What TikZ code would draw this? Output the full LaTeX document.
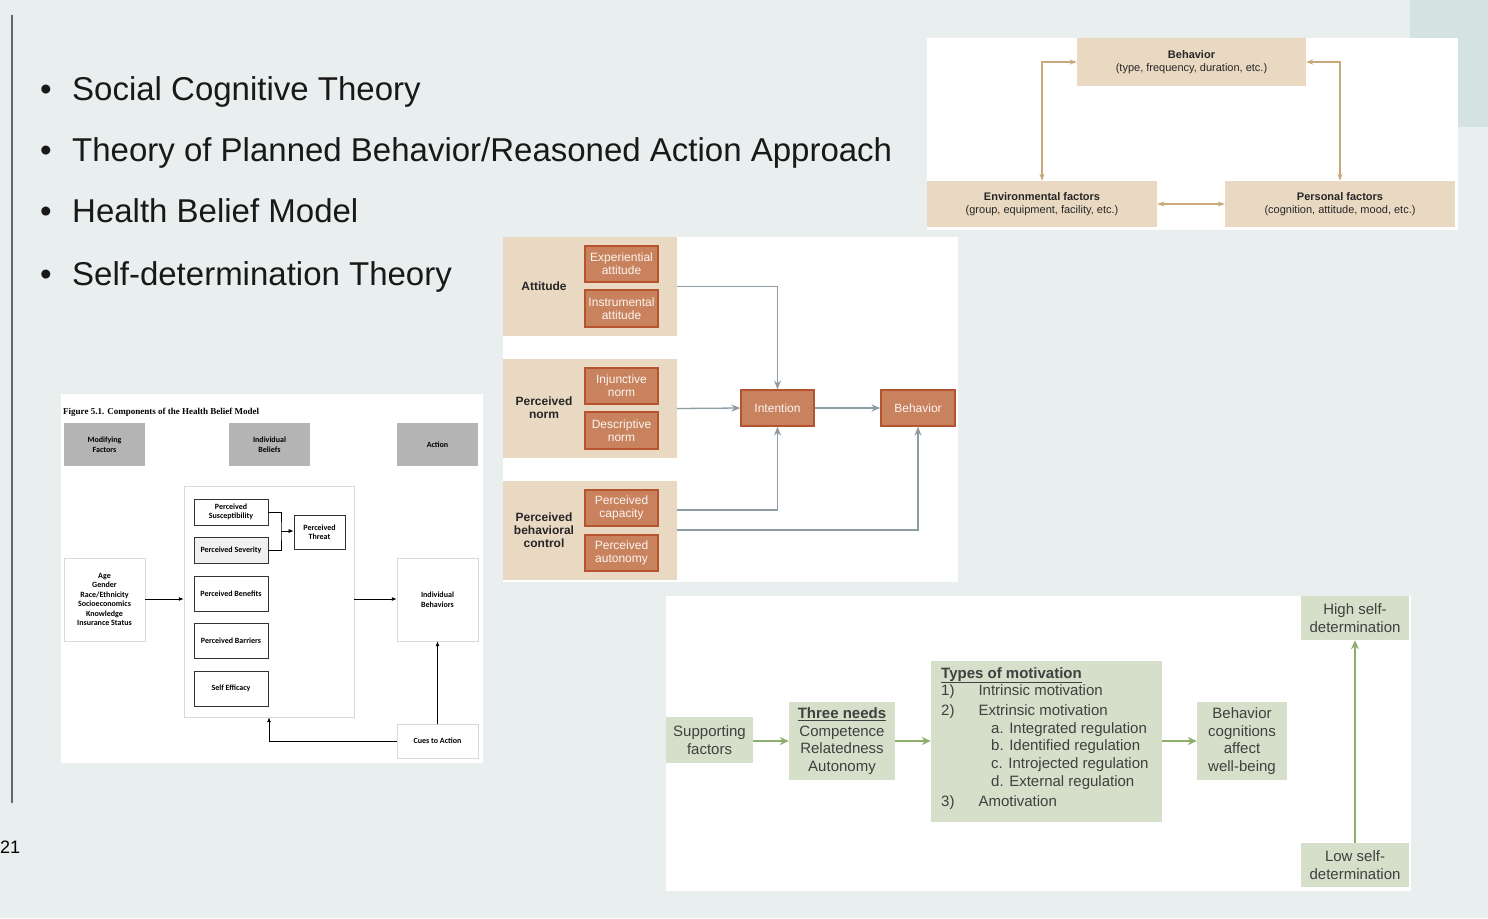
\documentclass[tikz,border=0pt]{standalone}
\usepackage{fontspec}
\setmainfont{Liberation Sans}
\newfontfamily\hbmfont{Carlito}
\newfontfamily\serf{Liberation Serif}
\usetikzlibrary{arrows.meta}
\definecolor{bg}{HTML}{E9EFEF}
\definecolor{corner}{HTML}{D5E2E2}
\definecolor{tan}{HTML}{E9D9C2}
\definecolor{tanar}{HTML}{C9A87C}
\definecolor{org}{HTML}{C8825E}
\definecolor{orgb}{HTML}{B5542E}
\definecolor{tgrey}{HTML}{8E9CA3}
\definecolor{grn}{HTML}{D6DFC9}
\definecolor{grnar}{HTML}{8EAE6E}
\definecolor{hgrey}{HTML}{B4B4B4}
\tikzset{
 x=1pt,y=-1pt,
 sct/.style={fill=tan,inner sep=0,text=black!85,font=\fontsize{11}{13}\selectfont,align=center},
 tgrp/.style={fill=tan,inner sep=0},
 obox/.style={fill=org,draw=orgb,line width=1.2pt,text=white!92!org,font=\fontsize{12}{13}\selectfont,align=center,inner sep=0},
 tarr/.style={draw=tgrey,line width=1.3pt,-{Stealth[length=9pt,width=7pt]}},
 sarr/.style={draw=tanar,line width=1.2pt,{Stealth[length=7pt,width=5pt]}-{Stealth[length=7pt,width=5pt]}},
 hbox/.style={draw=black!80,line width=0.6pt,fill=white,inner sep=0,align=center,font=\hbmfont\bfseries\fontsize{8}{9.5}\selectfont},
 hhead/.style={fill=hgrey,inner sep=0,align=center,font=\hbmfont\bfseries\fontsize{8}{9.5}\selectfont},
 hsoft/.style={draw=black!15,fill=white,inner sep=0,align=center,font=\hbmfont\bfseries\fontsize{8}{9.5}\selectfont},
 harr/.style={draw=black,line width=0.9pt,-{Latex[length=5pt,width=4pt]}},
 gbox/.style={fill=grn,inner sep=0,align=center,text=black!75,font=\fontsize{15}{17.5}\selectfont},
 garr/.style={draw=grnar,line width=1.5pt,-{Stealth[length=9pt,width=8pt]}},
 bul/.style={anchor=base west,inner sep=0,font=\fontsize{33}{36}\selectfont,text=black!90},
}
\newcommand{\rbox}[5][]{\node[#1,minimum width=#4-#2,minimum height=#5-#3] at ({(#2+#4)/2},{(#3+#5)/2})}
\begin{document}
\begin{tikzpicture}
\fill[bg] (0,0) rectangle (1488,918);
\useasboundingbox (0,0) rectangle (1488,918);
\fill[corner] (1410,0) rectangle (1488,127);
\draw[black!60,line width=2pt] (12,15) -- (12,803);
\node[anchor=base west,inner sep=0,font=\fontsize{18}{20}\selectfont] (pg) at (0,853) {21};
% bullets
\foreach \t/\yy in {{Social Cognitive Theory}/100,{Theory of Planned Behavior{/}Reasoned Action Approach}/161,{Health Belief Model}/222,{Self-determination Theory}/285}
 {\node[bul] at (40,\yy) {\textbullet}; \node[bul] at (72,\yy) {\t};}
% SCT
\fill[white] (927,38) rectangle (1458,230);
\rbox[sct]{1077}{38}{1306}{86} (beh) {\textbf{Behavior}\\(type, frequency, duration, etc.)};
\rbox[sct]{927}{181}{1157}{227} (env) {\textbf{Environmental factors}\\(group, equipment, facility, etc.)};
\rbox[sct]{1225}{181}{1455}{227} (pers) {\textbf{Personal factors}\\(cognition, attitude, mood, etc.)};
\draw[sarr] (beh.west) -| (env.north -| 1042,0);
\draw[sarr] (beh.east) -| (pers.north -| 1340,0);
\draw[sarr] (env) -- (pers);
% TPB
\fill[white] (503,237) rectangle (958,582);
\rbox[tgrp]{503}{237}{677}{336} (g1) {};
\rbox[tgrp]{503}{359}{677}{458} (g2) {};
\rbox[tgrp]{503}{481}{677}{580} (g3) {};
\node[font=\bfseries\fontsize{12}{13}\selectfont,align=center,text=black!85] (l1) at (544,286) {Attitude};
\node[font=\bfseries\fontsize{12}{13}\selectfont,align=center,text=black!85] (l2) at (544,408) {Perceived\\norm};
\node[font=\bfseries\fontsize{12}{13}\selectfont,align=center,text=black!85] (l3) at (544,530) {Perceived\\behavioral\\control};
\rbox[obox]{585}{246}{658}{282} (o1) {Experiential\\attitude};
\rbox[obox]{585}{290}{658}{327} (o2) {Instrumental\\attitude};
\rbox[obox]{585}{368}{658}{404} (o3) {Injunctive\\norm};
\rbox[obox]{585}{412}{658}{449} (o4) {Descriptive\\norm};
\rbox[obox]{585}{490}{658}{526} (o5) {Perceived\\capacity};
\rbox[obox]{585}{535}{658}{571} (o6) {Perceived\\autonomy};
\rbox[obox]{741}{390}{814}{426} (int) {Intention};
\rbox[obox]{881}{390}{955}{426} (tb) {Behavior};
\draw[tarr] (g1.east) -| (int.north);
\draw[tarr] (g2.east) -- (int.west);
\draw[tarr] (g3.east |- 0,510) -| (int.south);
\draw[tarr] (g3.east |- 0,530) -| (tb.south);
\draw[tarr] (int) -- (tb);
% HBM
\fill[white] (61,394) rectangle (483,763);
\node[anchor=base west,inner sep=0,font=\serf\bfseries\fontsize{9}{10}\selectfont] (ht) at (63,414) {Figure 5.1. Components of the Health Belief Model};
\rbox[hhead]{64}{423}{145}{466} (h1) {Modifying\\Factors};
\rbox[hhead]{229}{423}{310}{466} (h2) {Individual\\Beliefs};
\rbox[hhead]{397}{423}{478}{466} (h3) {Action};
\rbox[hsoft]{184}{486}{354}{717} (big) {};
\rbox[hbox]{194}{499}{268}{525} (sus) {Perceived\\Susceptibility};
\rbox[hbox,fill=black!6]{194}{537}{268}{563} (sev) {Perceived Severity};
\rbox[hbox]{294}{515}{345}{549} (thr) {Perceived\\Threat};
\rbox[hbox]{194}{576}{268}{611} (ben) {Perceived Benefits};
\rbox[hbox]{194}{623}{268}{658} (bar) {Perceived Barriers};
\rbox[hbox]{194}{671}{268}{706} (se) {Self Efficacy};
\rbox[hsoft]{64}{558}{145}{641} (mod) {Age\\Gender\\Race/Ethnicity\\Socioeconomics\\Knowledge\\Insurance Status};
\rbox[hsoft]{397}{558}{478}{641} (ib) {Individual\\Behaviors};
\rbox[hsoft]{397}{724}{478}{758} (cue) {Cues to Action};
\coordinate (jn) at (281,531);
\draw[black,line width=0.9pt] (sus.east) -| (jn) |- (sev.east);
\draw[harr] (jn) -- (thr.west |- jn);
\draw[harr] (mod.east |- 0,599) -- (big.west |- 0,599);
\draw[harr] (big.east |- 0,599) -- (ib.west |- 0,599);
\draw[harr] (cue.north) -- (ib.south);
\draw[harr] (cue.west) -| (big.south -| 269,0);
% SDT
\fill[white] (666,596) rectangle (1411,891);
\rbox[gbox]{666}{717}{753}{763} (sup) {Supporting\\factors};
\rbox[gbox]{789}{702}{895}{780} (tn) {\textbf{\underline{Three needs}}\\Competence\\Relatedness\\Autonomy};
\rbox[gbox]{931}{661}{1162}{822} (tm) {};
\node[anchor=north west,inner sep=0,align=left,text=black!75,font=\fontsize{15}{17.6}\selectfont] (tmt) at (941,667) {\textbf{\underline{Types of motivation}}\\
1)\hspace{24pt}Intrinsic motivation\\[2.5pt]
2)\hspace{24pt}Extrinsic motivation\\
\hspace{50pt}a. Integrated regulation\\
\hspace{50pt}b. Identified regulation\\
\hspace{50pt}c. Introjected regulation\\
\hspace{50pt}d. External regulation\\[2.5pt]
3)\hspace{24pt}Amotivation};
\rbox[gbox]{1197}{702}{1287}{780} (bc) {Behavior\\cognitions\\affect\\well-being};
\rbox[gbox]{1301}{596}{1409}{640} (hi) {High self-\\determination};
\rbox[gbox]{1301}{843}{1409}{887} (lo) {Low self-\\determination};
\draw[garr] (sup.east |- 0,741) -- (tn.west |- 0,741);
\draw[garr] (tn.east |- 0,741) -- (tm.west |- 0,741);
\draw[garr] (tm.east |- 0,741) -- (bc.west |- 0,741);
\draw[garr] (lo.north) -- (hi.south);
\end{tikzpicture}
\end{document}
